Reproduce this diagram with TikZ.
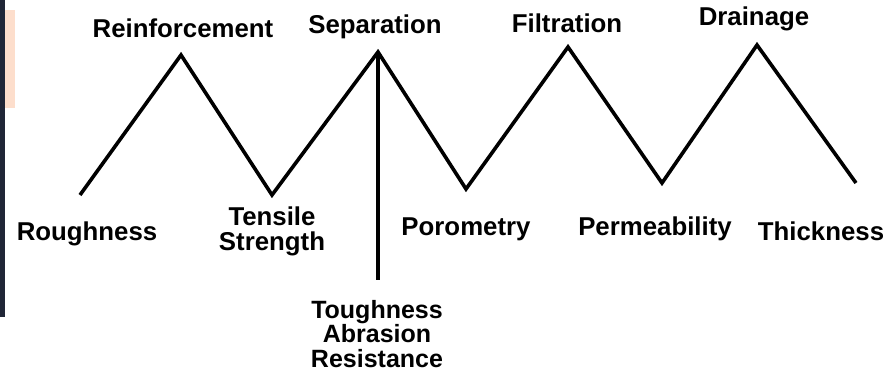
\documentclass[tikz,border=0pt]{standalone}
\usepackage{fontspec}
\setmainfont{Liberation Sans}
\begin{document}
\begin{tikzpicture}[x=1pt,y=-1pt,
  lbl/.style={font=\bfseries\fontsize{25.8}{25}\selectfont, inner sep=0pt, align=center},
  zig/.style={line width=3.6pt, line join=miter, black}]
\useasboundingbox (0,0) rectangle (888,372);
\fill[white] (0,0) rectangle (888,372);
% photo fragment on the left edge
\fill[fill={rgb,255:red,32;green,38;blue,55}] (0,0) rectangle (5,317);
\fill[fill={rgb,255:red,253;green,222;blue,204}] (5,10) rectangle (15,108);
% zigzag points
\coordinate (p0) at (80,195);
\coordinate (p1) at (181,55);
\coordinate (p2) at (272,195);
\coordinate (p3) at (378,52);
\coordinate (p4) at (466,189);
\coordinate (p5) at (568,47);
\coordinate (p6) at (662,183);
\coordinate (p7) at (757,45);
\coordinate (p8) at (856,183);
\coordinate (vb) at (378,280);
\draw[zig] (p0) -- (p1) -- (p2) -- (p3) -- (p4) -- (p5) -- (p6) -- (p7) -- (p8);
\draw[zig] (p3) -- (vb);
% labels
\node[lbl] (reinf) at (183,28) {Reinforcement};
\node[lbl] (sep) at (375,27) {Separation};
\node[lbl] (filt) at (567,23) {Filtration};
\node[lbl] (drain) at (754,19) {Drainage};
\node[lbl] (rough) at (87,234) {Roughness};
\node[lbl] (tens) at (272,231) {Tensile\\Strength};
\node[lbl] (poro) at (466,229) {Porometry};
\node[lbl] (perm) at (655,229) {Permeability};
\node[lbl] (thick) at (821,231) {Thickness};
\node[lbl, font=\bfseries\fontsize{25}{24.5}\selectfont] (tough) at (377,334) {Toughness\\Abrasion\\Resistance};
\end{tikzpicture}
\end{document}
